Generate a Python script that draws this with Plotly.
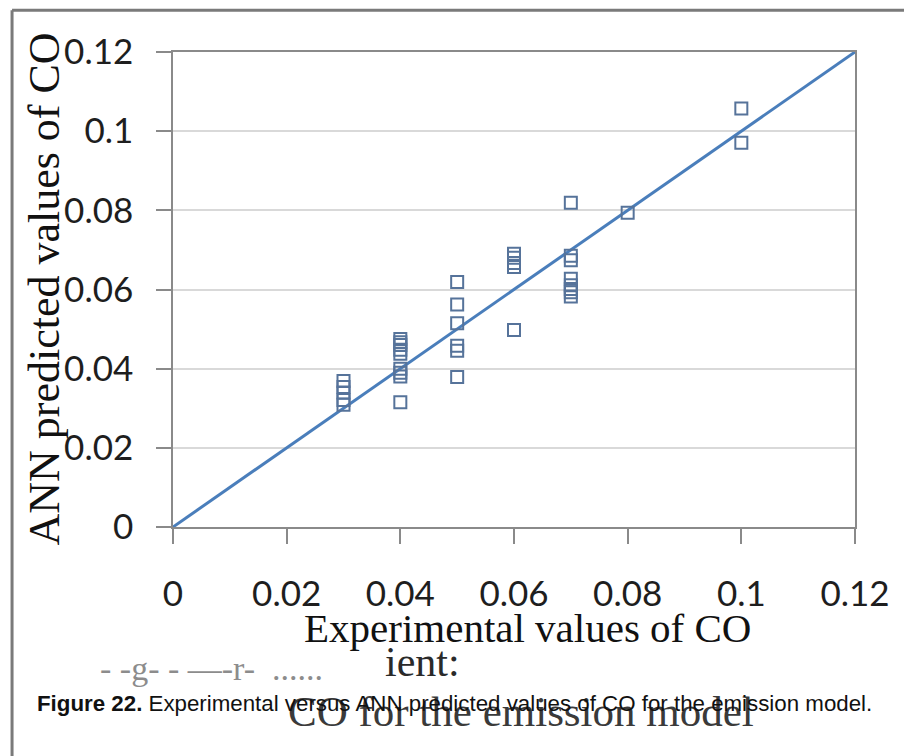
import plotly.graph_objects as go

# Experimental CO values (x) and the ANN predictions for them (y)
exp_co = [0.03, 0.03, 0.03, 0.03, 0.03,
          0.04, 0.04, 0.04, 0.04, 0.04, 0.04, 0.04, 0.04, 0.04,
          0.05, 0.05, 0.05, 0.05, 0.05, 0.05,
          0.06, 0.06, 0.06, 0.06, 0.06,
          0.07, 0.07, 0.07, 0.07, 0.07, 0.07, 0.07, 0.07,
          0.08,
          0.10, 0.10]
ann_co = [0.0369, 0.0354, 0.0340, 0.0321, 0.0309,
          0.0475, 0.0467, 0.0460, 0.0448, 0.0438, 0.0400, 0.0390, 0.0380, 0.0315,
          0.0619, 0.0562, 0.0515, 0.0458, 0.0445, 0.0379,
          0.0690, 0.0680, 0.0667, 0.0657, 0.0498,
          0.0819, 0.0685, 0.0674, 0.0627, 0.0611, 0.0601, 0.0593, 0.0582,
          0.0794,
          0.1057, 0.0971]

# Line of perfect agreement
ideal_x = [0.0, 0.12]
ideal_y = [0.0, 0.12]

tick_vals = [0, 0.02, 0.04, 0.06, 0.08, 0.1, 0.12]
tick_text = ["0", "0.02", "0.04", "0.06", "0.08", "0.1", "0.12"]

x_title = "Experimental values of CO"
y_title = "ANN predicted values of CO"
caption = "<b>Figure 22.</b> Experimental versus ANN predicted values of CO for the emission model."

AXIS_GREY = "#8a8a8a"
GRID_GREY = "#d9d9d9"
TICK_FONT = dict(family="Lato, Carlito, Liberation Sans", size=35, color="#1e1e1e")
SERIF = "Liberation Serif, Times New Roman, serif"

fig = go.Figure()

fig.add_trace(go.Scatter(
    x=ideal_x, y=ideal_y, mode="lines",
    line=dict(color="#4a7ebb", width=3),
    showlegend=False, hoverinfo="skip",
))

fig.add_trace(go.Scatter(
    x=exp_co, y=ann_co, mode="markers",
    marker=dict(symbol="square-open", size=12,
                color="#56739a", line=dict(width=2, color="#56739a")),
    showlegend=False,
))

fig.update_xaxes(
    range=[0, 0.12], tickvals=tick_vals, ticktext=tick_text,
    showgrid=False, zeroline=False,
    showline=True, mirror=True, linecolor=AXIS_GREY, linewidth=1.5,
    ticks="outside", ticklen=15, tickwidth=1.5, tickcolor=AXIS_GREY,
    tickfont=TICK_FONT, ticklabelstandoff=20,
)
fig.update_yaxes(
    range=[0, 0.12], tickvals=tick_vals, ticktext=tick_text,
    showgrid=True, gridcolor=GRID_GREY, gridwidth=1.5, zeroline=False,
    showline=True, mirror=True, linecolor=AXIS_GREY, linewidth=1.5,
    ticks="outside", ticklen=15, tickwidth=1.5, tickcolor=AXIS_GREY,
    tickfont=TICK_FONT, ticklabelstandoff=16,
)

annotations = [
    # axis titles
    dict(text=y_title, xref="paper", yref="paper", x=-0.189, y=0.5,
         xanchor="center", yanchor="middle", textangle=-90, showarrow=False,
         font=dict(family=SERIF, size=44, color="#111111")),
    dict(text=x_title, xref="paper", yref="paper", x=0.52, y=-0.213,
         xanchor="center", yanchor="middle", showarrow=False,
         font=dict(family=SERIF, size=41, color="#111111")),
    # faint text printed underneath the caption
    dict(text="- -g- - —-r-  ......", xref="paper", yref="paper", x=-0.11, y=-0.298,
         xanchor="left", yanchor="middle", showarrow=False,
         font=dict(family=SERIF, size=34, color="#8c8c8c")),
    dict(text="ient:", xref="paper", yref="paper", x=0.366, y=-0.285,
         xanchor="center", yanchor="middle", showarrow=False,
         font=dict(family=SERIF, size=42, color="#2a2a2a")),
    dict(text="CO for the emission model", xref="paper", yref="paper", x=0.51, y=-0.388,
         xanchor="center", yanchor="middle", showarrow=False,
         font=dict(family=SERIF, size=43, color="#3a3a3a")),
    # figure caption
    dict(text=caption, xref="paper", yref="paper", x=-0.203, y=-0.371,
         xanchor="left", yanchor="middle", showarrow=False,
         font=dict(family="Liberation Sans", size=22.3, color="#111111")),
]

shapes = [
    # page frame on the left and top
    dict(type="line", xref="paper", yref="paper", x0=-0.236, x1=-0.236, y0=1.088, y1=-0.52,
         line=dict(color="#7a7a7a", width=3)),
    dict(type="line", xref="paper", yref="paper", x0=-0.236, x1=1.08, y0=1.088, y1=1.088,
         line=dict(color="#7a7a7a", width=3)),
]

fig.update_layout(
    width=904, height=756, autosize=False,
    margin=dict(l=173, r=49, t=52, b=229),
    paper_bgcolor="white", plot_bgcolor="white",
    annotations=annotations, shapes=shapes,
)

fig.write_html("out.html")
